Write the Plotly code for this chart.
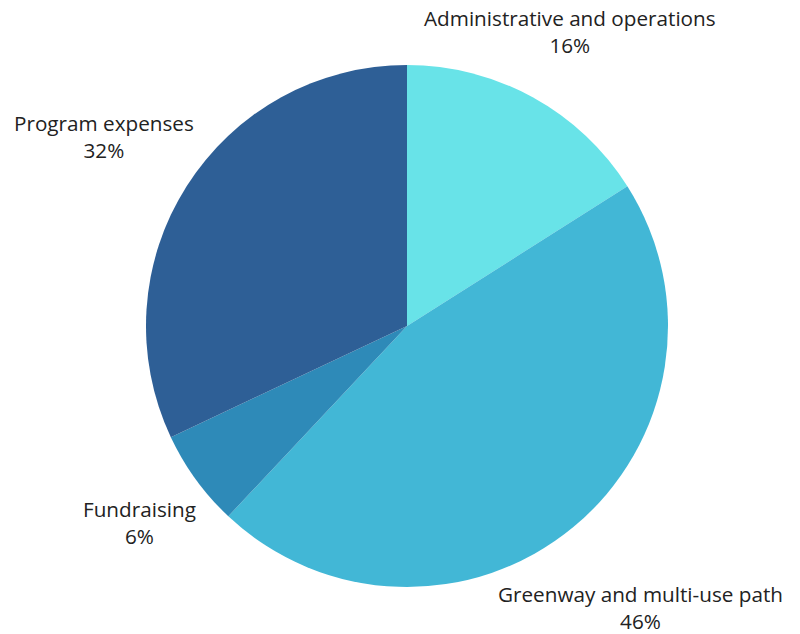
import plotly.graph_objects as go

labels = ["Administrative and operations", "Greenway and multi-use path", "Fundraising", "Program expenses"]
values = [16, 46, 6, 32]
colors = ["#68e3e8", "#42b7d6", "#2e8ab8", "#2e5f96"]

# label anchor positions (page pixels, centre of text block)
label_pos = [(570, 32), (640, 607), (139, 522), (104, 136)]

W, H = 800, 634
OFF = 8  # default page body margin
L, R, T, B = 146 - OFF, 132 + OFF, 65 - OFF, 47 + OFF
PW, PH = W - L - R, H - T - B

fig = go.Figure(go.Pie(
    labels=labels,
    values=values,
    sort=False,
    direction="clockwise",
    rotation=0,
    marker=dict(colors=colors, line=dict(width=0)),
    textinfo="none",
    showlegend=False,
    hoverinfo="label+percent",
))

total = sum(values)
annotations = []
for lab, val, (px, py) in zip(labels, values, label_pos):
    pct = round(val / total * 100)
    fx, fy = px - OFF, py - OFF
    annotations.append(dict(
        x=(fx - L) / PW, y=(H - B - fy) / PH, xref="paper", yref="paper",
        xanchor="center", yanchor="middle",
        text=f"{lab}<br>{pct}%", showarrow=False, align="center",
        font=dict(family="Open Sans", size=20.7, color="#222222"),
    ))

fig.update_layout(
    width=W, height=H,
    margin=dict(l=L, r=R, t=T, b=B),
    paper_bgcolor="white",
    plot_bgcolor="white",
    annotations=annotations,
)

fig.write_html("out.html")
